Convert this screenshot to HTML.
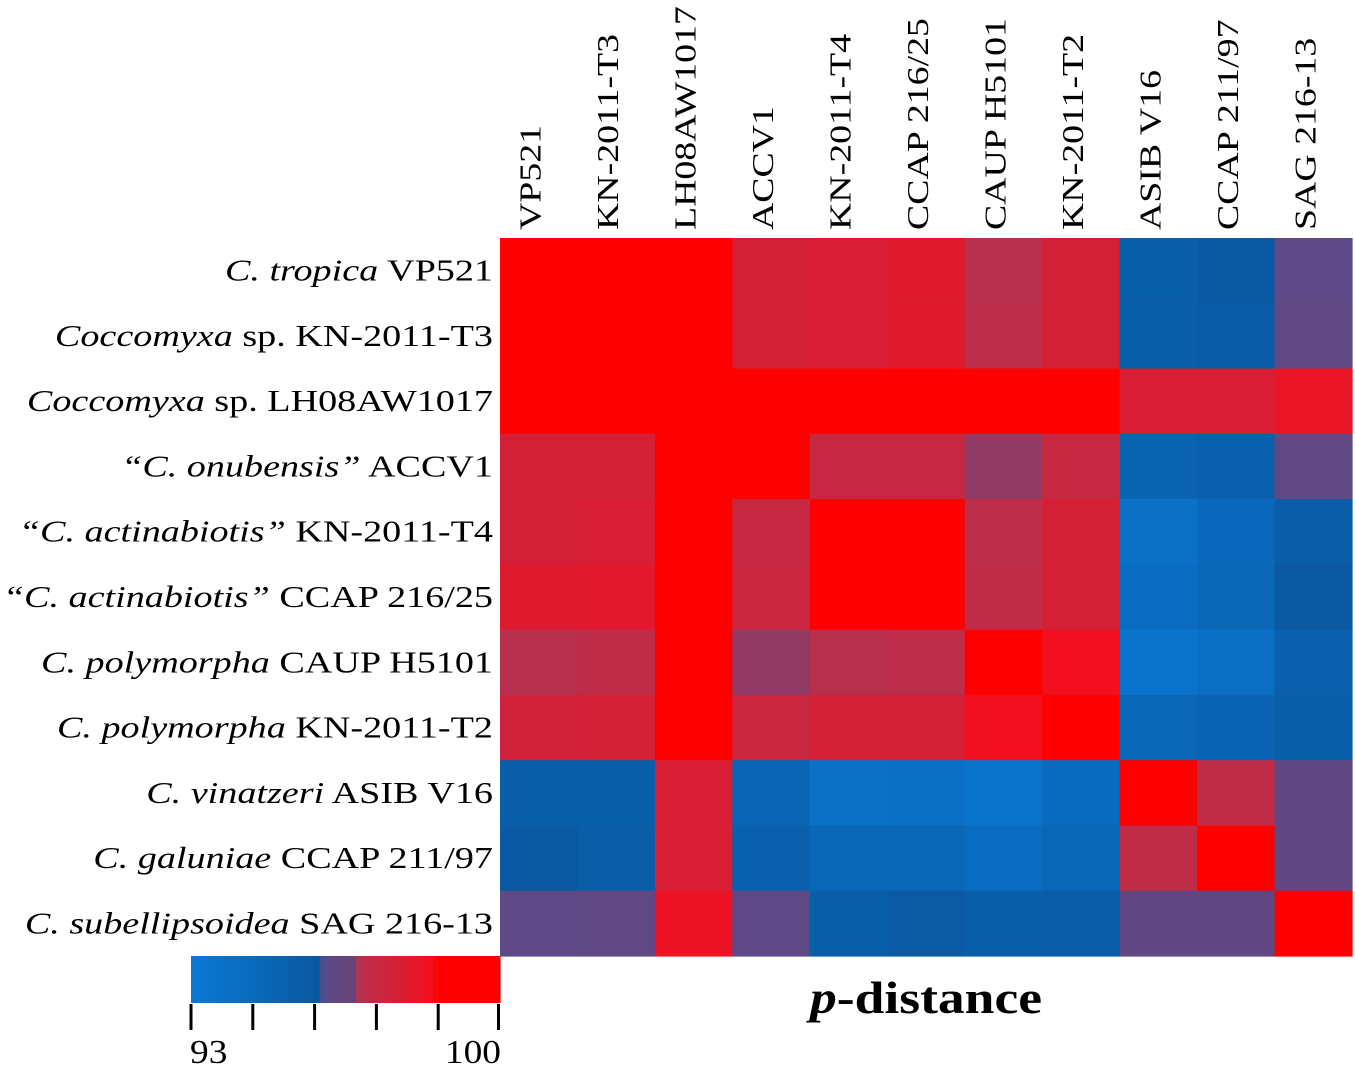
<!DOCTYPE html>
<html><head><meta charset="utf-8"><style>
html,body{margin:0;padding:0;background:#fff;}
svg{display:block;font-family:"Liberation Serif",serif;}
</style></head><body>
<svg id="chart" width="1355" height="1070" viewBox="0 0 1355 1070" xmlns="http://www.w3.org/2000/svg">
<g id="cells"></g>
<g id="collabels"></g>
<g id="rowlabels"></g>
<g id="legend"></g>
<text id="ptitle" x="810" y="1013" font-size="45" font-weight="bold"><tspan font-style="italic">p</tspan>-distance</text>
</svg>
<script>
const colLabels = ["VP521","KN-2011-T3","LH08AW1017","ACCV1","KN-2011-T4","CCAP 216/25","CAUP H5101","KN-2011-T2","ASIB V16","CCAP 211/97","SAG 216-13"];
const rowSpecies = ["C. tropica","Coccomyxa","Coccomyxa","\u201cC. onubensis\u201d","\u201cC. actinabiotis\u201d","\u201cC. actinabiotis\u201d","C. polymorpha","C. polymorpha","C. vinatzeri","C. galuniae","C. subellipsoidea"];
const rowSuffix = [" VP521"," sp. KN-2011-T3"," sp. LH08AW1017"," ACCV1"," KN-2011-T4"," CCAP 216/25"," CAUP H5101"," KN-2011-T2"," ASIB V16"," CCAP 211/97"," SAG 216-13"];
const row0 = [100,100,100,97.6,97.7,97.9,96.8,97.6,95.3,95.8,96.1];
const row1 = [100,100,100,97.6,97.7,97.9,96.9,97.6,95.3,95.6,96.2];
const row2 = [100,100,100,100,100,100,100,100,97.7,97.7,98.2];
const row3 = [97.6,97.6,100,100,97.2,97.2,96.75,97.2,95.0,95.2,96.2];
const row4 = [97.6,97.7,100,97.2,100,100,96.9,97.6,93.8,94.5,95.5];
const row5 = [97.9,98.0,100,97.3,100,100,97.0,97.6,94.2,94.6,95.8];
const row6 = [96.8,97.0,100,96.75,96.8,96.9,100,98.4,93.6,94.0,95.2];
const row7 = [97.5,97.6,100,97.3,97.6,97.6,98.4,100,94.6,94.9,95.3];
const row8 = [95.3,95.3,97.7,94.8,93.8,93.9,93.6,94.3,100,97.0,96.3];
const row9 = [95.8,95.5,97.7,95.2,94.6,94.6,94.2,94.6,97.0,100,96.3];
const row10 = [96.1,96.2,98.3,96.1,95.3,95.7,95.3,95.4,96.3,96.3,100];
const legendTicks = [93,94.4,95.8,97.2,98.6,100];
const legendTickLabels = ["93","100"];

const matrix=[row0,row1,row2,row3,row4,row5,row6,row7,row8,row9,row10];
const NS="http://www.w3.org/2000/svg";
const X0=500,X1=1352,Y0=238,Y1=956;
const cw=(X1-X0)/colLabels.length, rh=(Y1-Y0)/matrix.length;
const xCol=i=>X0+i*cw, yRow=j=>Y0+j*rh;
const vmin=93,vmax=100;
const stops=[[93,[10,122,214]],[95.9,[10,88,160]],[96.0,[90,74,136]],[96.7,[106,68,120]],[96.8,[184,48,78]],[98.4,[240,16,32]],[98.6,[255,0,0]],[100,[255,0,0]]];
function color(v){
  if(v<=stops[0][0])return "rgb("+stops[0][1]+")";
  for(let k=1;k<stops.length;k++){if(v<=stops[k][0]){const [a,ca]=stops[k-1],[b,cb]=stops[k];const t=(v-a)/(b-a);return "rgb("+ca.map((c,i)=>Math.round(c+(cb[i]-c)*t)).join(",")+")";}}
  return "rgb(255,0,0)";
}
function el(t,a,p){const e=document.createElementNS(NS,t);for(const k in a)e.setAttribute(k,a[k]);p.appendChild(e);return e;}
function stretch(t,f){const w=t.getComputedTextLength();t.setAttribute('textLength',w*f);t.setAttribute('lengthAdjust','spacingAndGlyphs');}
const gc=document.getElementById('cells');
matrix.forEach((r,j)=>r.forEach((v,i)=>{
  const e=el('rect',{x:xCol(i),y:yRow(j),width:cw+0.6,height:rh+0.6,fill:color(v)},gc);
  
  
}));
const gcl=document.getElementById('collabels');
colLabels.forEach((l,i)=>{
  const cx=xCol(i)+cw/2+2, cy=230;
  const t=el('text',{x:cx,y:cy,'font-size':31,transform:`rotate(-90 ${cx} ${cy})`},gcl);
  t.textContent=l;
  
  
  stretch(t,1.22);
});
const grl=document.getElementById('rowlabels');
rowSpecies.forEach((s,j)=>{
  const t=el('text',{x:493,y:yRow(j)+rh/2+10,'font-size':31,'text-anchor':'end'},grl);
  const a=el('tspan',{'font-style':'italic'},t);a.textContent=s;
  const b=el('tspan',{},t);b.textContent=rowSuffix[j];
  
  
  stretch(t,1.23);
});
const pt=document.getElementById('ptitle');
pt.setAttribute('textLength',232);pt.setAttribute('lengthAdjust','spacingAndGlyphs');
const gl=document.getElementById('legend');
const LX0=191,LX1=500;
const lx=v=>LX0+(v-vmin)/(vmax-vmin)*(LX1-LX0);
for(let k=0;k<60;k++){
  const v=vmin+(k+0.5)*(vmax-vmin)/60;
  const r=el('rect',{x:lx(vmin+k*(vmax-vmin)/60),y:956,width:(LX1-LX0)/60+0.6,height:47,fill:color(v)},gl);
  
  
}
legendTicks.forEach(v=>{
  const x=Math.min(lx(v),LX1-1.5);
  const ln=el('line',{x1:x,x2:x,y1:1004,y2:1030,stroke:'#000','stroke-width':3},gl);
  
  
});
const t1=el('text',{x:190,y:1063,'font-size':34},gl);t1.textContent=legendTickLabels[0];


stretch(t1,1.1);
const t2=el('text',{x:501,y:1063,'font-size':34,'text-anchor':'end'},gl);t2.textContent=legendTickLabels[1];


stretch(t2,1.1);
</script>
</body></html>
